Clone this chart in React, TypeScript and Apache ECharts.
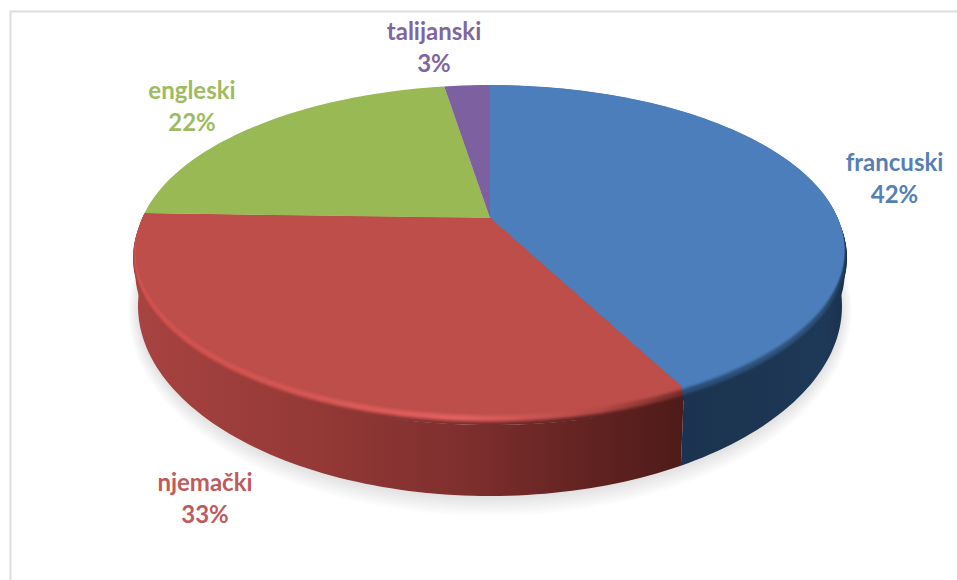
import React, { useEffect, useRef } from "react";
import * as echarts from "echarts";

const CATEGORIES = ["francuski", "njemački", "engleski", "talijanski"];
const VALUES = [42.4, 33.1, 22.0, 2.5];
const TOP_COLORS = ["#4b7eba", "#bd4e4a", "#98b954", "#7d60a0"];
const TEXT_COLORS = ["#5580b5", "#bf5b5c", "#9ebb62", "#7f66a2"];
const LABEL_CENTERS = [[894.5, 177], [205, 497], [192, 105], [434, 46]];

const WALL_STOPS = [
  ["#1b3350", "#1c3551", "#1d3654", "#1e3958", "#1a3049"],
  ["#a84341", "#963a37", "#7e2f2e", "#5f2220", "#4e1b19"],
];
const HIGH_STOPS = [
  ["#2a4c76", "#2c5079", "#2e547f", "#2c4f78", "#1f3a5a"],
  ["#d2504d", "#d65654", "#e2615f", "#b34846", "#772d2a"],
];
const STOP_OFFSETS = [0, 0.3, 0.6, 0.85, 1];
const WALL_RANGE = [[683, 848], [133, 683]];

const CX = 490, APEX_Y = 218;
const FLAT = { cy: 249, rx: 354, ry: 164 };
const RIM = { cy: 258, rx: 357, ry: 167 };
const SHOULDER = { cy: 275, rx: 354.5, ry: 150 };
const BASE = { cy: 306, rx: 352, ry: 190 };
const BANDS = 12;
const SHADOW_STEPS = 14;

const UP = APEX_Y - (FLAT.cy - FLAT.ry);
const DOWN = FLAT.cy + FLAT.ry - APEX_Y;
const K = (DOWN - UP) / (DOWN + UP);
const B = UP * (1 + K);
const A = FLAT.rx * Math.sqrt(1 - K * K);

function project(theta: number) {
  const u = Math.sin(theta), v = -Math.cos(theta), w = 1 - K * v;
  return [CX + (A * u) / w, APEX_Y + (B * v) / w];
}
function toAlpha(theta: number) {
  const [x, y] = project(theta);
  let a = Math.atan2((x - CX) / FLAT.rx, -(y - FLAT.cy) / FLAT.ry);
  if (a < -1e-6) a += Math.PI * 2;
  return a;
}
function arc(e: { cy: number; rx: number; ry: number }, a0: number, a1: number) {
  const n = Math.max(4, Math.ceil(((a1 - a0) / Math.PI) * 120));
  const pts: number[][] = [];
  for (let i = 0; i <= n; i++) {
    const a = a0 + ((a1 - a0) * i) / n;
    pts.push([CX + e.rx * Math.sin(a), e.cy - e.ry * Math.cos(a)]);
  }
  return pts;
}
function hex(c: string) {
  return [1, 3, 5].map((i) => parseInt(c.slice(i, i + 2), 16));
}
function mix(c0: string, c1: string, t: number) {
  const a = hex(c0), b = hex(c1);
  const r = a.map((v, i) => Math.round(v + (b[i] - v) * t));
  return "#" + r.map((v) => v.toString(16).padStart(2, "0")).join("");
}
function hGrad(range: number[], colors: string[]) {
  return {
    type: "linear", global: true, x: range[0], y: 0, x2: range[1], y2: 0,
    colorStops: colors.map((color, i) => ({ offset: STOP_OFFSETS[i], color })),
  };
}
function smooth(t: number) {
  return t * t * (3 - 2 * t);
}

const TOTAL = VALUES.reduce((a, b) => a + b, 0);

function renderItem(params: any, api: any) {
  const i = params.dataIndex;
  const before = VALUES.slice(0, i).reduce((a, b) => a + b, 0);
  const th0 = (before / TOTAL) * Math.PI * 2;
  const th1 = ((before + api.value(0)) / TOTAL) * Math.PI * 2;
  const a0 = toAlpha(th0);
  let a1 = toAlpha(th1);
  if (a1 <= a0) a1 += Math.PI * 2;
  const apex = [CX, APEX_Y];
  const children: any[] = [];
  if (WALL_STOPS[i]) {
    const wallFill = hGrad(WALL_RANGE[i], WALL_STOPS[i]);
    children.push({
      type: "polygon",
      shape: { points: arc(RIM, a0, a1).concat(arc(BASE, a0, a1).reverse()) },
      style: { fill: wallFill },
    });
    children.push({
      type: "polygon",
      shape: { points: [apex].concat(arc(SHOULDER, a0, a1)) },
      style: { fill: wallFill },
    });
    for (let b = 0; b < BANDS; b++) {
      const t = (b + 0.5) / BANDS;
      const e = {
        cy: RIM.cy + (FLAT.cy - RIM.cy) * t,
        rx: RIM.rx + (FLAT.rx - RIM.rx) * t,
        ry: RIM.ry + (FLAT.ry - RIM.ry) * t,
      };
      const colors = WALL_STOPS[i].map((w, s) => {
        const h = HIGH_STOPS[i][s];
        return t < 0.5 ? mix(w, h, smooth(t / 0.5)) : mix(h, TOP_COLORS[i], smooth((t - 0.5) / 0.5));
      });
      children.push({
        type: "polygon",
        shape: { points: [apex].concat(arc(e, a0, a1)) },
        style: { fill: hGrad(WALL_RANGE[i], colors) },
      });
    }
  }
  children.push({
    type: "polygon",
    shape: { points: [apex].concat(arc(FLAT, a0, a1)) },
    style: { fill: TOP_COLORS[i] },
  });
  children.push({
    type: "text",
    x: LABEL_CENTERS[i][0],
    y: LABEL_CENTERS[i][1],
    style: {
      text: CATEGORIES[i] + "\n" + Math.round(api.value(0)) + "%",
      fill: TEXT_COLORS[i],
      font: 'bold 24px Lato, "Open Sans", sans-serif',
      lineHeight: 32,
      align: "center",
      verticalAlign: "middle",
    },
  });
  return { type: "group", children };
}

const shadowLayers = Array.from({ length: SHADOW_STEPS }, (_, s) => {
  const t = 1 - s / (SHADOW_STEPS - 1);
  return {
    type: "ellipse",
    silent: true,
    shape: { cx: CX, cy: BASE.cy + 2 + 3 * t, rx: BASE.rx + 10 * t, ry: BASE.ry + 15 * t },
    style: { fill: "rgba(60,60,60,0.012)" },
    z: 0,
  };
});

export default function App() {
  const ref = useRef<HTMLDivElement>(null);
  useEffect(() => {
    document.body.style.margin = "0";
    document.body.style.background = "#fff";
    const chart = echarts.init(ref.current!, null, { renderer: "svg" });
    chart.setOption({
      animation: false,
      backgroundColor: "#ffffff",
      graphic: [
        {
          type: "polyline",
          silent: true,
          shape: { points: [[10.5, 580], [10.5, 11.5], [957, 11.5]] },
          style: { stroke: "#dedede", lineWidth: 2, fill: "none" },
          z: 0,
        },
        ...shadowLayers,
      ],
      series: [
        {
          type: "custom",
          coordinateSystem: "none",
          silent: true,
          z: 5,
          renderItem,
          data: VALUES.map((v, i) => ({ name: CATEGORIES[i], value: [v] })),
        },
      ],
    });
    return () => chart.dispose();
  }, []);
  return <div ref={ref} style={{ width: 957, height: 580 }} />;
}
